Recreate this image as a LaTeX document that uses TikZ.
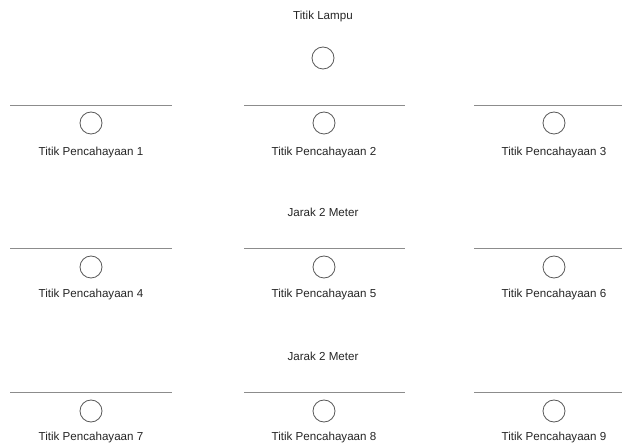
\documentclass[tikz,border=0pt]{standalone}
\usepackage{fontspec}
\setmainfont{Liberation Sans}
\begin{document}
\begin{tikzpicture}[x=1pt,y=-1pt,
  lbl/.style={font=\fontsize{11.6}{13}\selectfont, text=black!85, inner sep=0pt},
  lamp/.style={circle, draw=black!65, line width=0.8pt, minimum size=22pt, inner sep=0pt},
  bar/.style={draw=black!45, line width=1pt}]
\useasboundingbox[fill=white] (0,0) rectangle (622,446);
\node[lbl] (title) at (323,17) {Titik Lampu};
\node[lamp] (top) at (323,58) {};
\foreach \r/\ly/\cy/\ty/\a in {1/106/123/153/0,2/249/267/295/3,3/393/411/438/6}{
  \foreach \c/\cx/\xa/\xb in {1/91/10/172,2/324/244/405,3/554/474/636}{
    \pgfmathtruncatemacro{\n}{\a+\c}
    \coordinate (l\n a) at (\xa,\ly);
    \coordinate (l\n b) at (\xb,\ly);
    \draw[bar] (l\n a) -- (l\n b);
    \node[lamp] (c\n) at (\cx,\cy) {};
    \node[lbl] (t\n) at (\cx,\ty) {Titik Pencahayaan \n};
  }
}
\node[lbl] (j1) at (323,212) {Jarak 2 Meter};
\node[lbl] (j2) at (323,356) {Jarak 2 Meter};
\end{tikzpicture}
\end{document}
